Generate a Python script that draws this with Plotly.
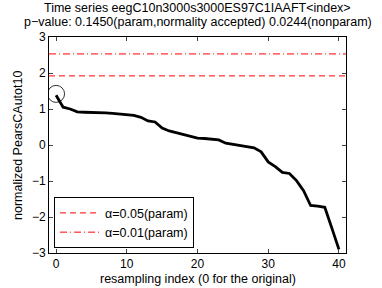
import plotly.graph_objects as go

resampling_index = list(range(41))
normalized_values = [1.38, 1.05, 1.00, 0.92, 0.91, 0.91, 0.90, 0.89, 0.88, 0.86,
                     0.84, 0.82, 0.77, 0.67, 0.64, 0.47, 0.39, 0.34, 0.30, 0.26,
                     0.19, 0.18, 0.17, 0.14, 0.05, 0.02, -0.02, -0.03, -0.08, -0.19,
                     -0.47, -0.60, -0.76, -0.79, -0.99, -1.27, -1.68, -1.70, -1.73, -2.31,
                     -2.90]
original_value = [1.42]
threshold_05 = 1.92
threshold_01 = 2.53
x_limits = [-1, 41]
y_limits = [-3, 3]
x_ticks = [0, 10, 20, 30, 40]
y_ticks = [-3, -2, -1, 0, 1, 2, 3]
title_lines = ["Time series eegC10n3000s3000ES97C1IAAFT&lt;index&gt;",
               "p−value: 0.1450(param,normality accepted) 0.0244(nonparam)"]
x_label = "resampling index (0 for the original)"
y_label = "normalized PearsCAutot10"

font = "Liberation Sans, Arial, Helvetica, sans-serif"

fig = go.Figure()
fig.add_trace(go.Scatter(x=x_limits, y=[threshold_05] * 2, mode="lines",
                         line=dict(color="#ff0000", width=1, dash="6px,4px"),
                         name="α=0.05(param)", showlegend=True))
fig.add_trace(go.Scatter(x=x_limits, y=[threshold_01] * 2, mode="lines",
                         line=dict(color="#ff0000", width=1, dash="7px,3px,1px,3px"),
                         name="α=0.01(param)", showlegend=True))
fig.add_trace(go.Scatter(x=resampling_index, y=normalized_values, mode="lines",
                         line=dict(color="black", width=2.8), showlegend=False))
fig.add_trace(go.Scatter(x=[resampling_index[0]], y=original_value, mode="markers",
                         marker=dict(symbol="circle-open", size=17,
                                     color="black", line=dict(width=0.8, color="black")),
                         showlegend=False))

annotations = [
    dict(text=title_lines[0], x=0.5, y=1.134, xref="paper", yref="paper",
         xanchor="center", yanchor="middle", showarrow=False,
         font=dict(family=font, size=12.5, color="black")),
    dict(text=title_lines[1], x=0.5, y=1.069, xref="paper", yref="paper",
         xanchor="center", yanchor="middle", showarrow=False,
         font=dict(family=font, size=12.5, color="black")),
    dict(text=x_label, x=0.5, y=-0.12, xref="paper", yref="paper",
         xanchor="center", yanchor="middle", showarrow=False,
         font=dict(family=font, size=12.5, color="black")),
    dict(text=y_label, x=-0.1044, y=0.5, xref="paper", yref="paper",
         xanchor="center", yanchor="middle", showarrow=False, textangle=-90,
         font=dict(family=font, size=12.5, color="black")),
]

fig.update_layout(
    width=382, height=288,
    margin=dict(l=49, r=36, t=37, b=35),
    paper_bgcolor="white", plot_bgcolor="white",
    font=dict(family=font, size=12, color="black"),
    annotations=annotations,
    legend=dict(x=0.017, y=0.258, xanchor="left", yanchor="top",
                bordercolor="black", borderwidth=1, bgcolor="white",
                font=dict(family=font, size=12.5), tracegroupgap=0,
                itemwidth=40),
    xaxis=dict(range=x_limits, tickvals=x_ticks, ticks="inside", ticklen=4,
               showline=True, linecolor="black", linewidth=1, mirror="ticks",
               showgrid=False, zeroline=False),
    yaxis=dict(range=y_limits, tickvals=y_ticks, ticks="inside", ticklen=4,
               showline=True, linecolor="black", linewidth=1, mirror="ticks",
               showgrid=False, zeroline=False),
)

# remove the page's default body margin so the figure sits at the window origin
fig.write_html("out.html",
               config={"displayModeBar": False},
               post_script="document.body.style.margin='0';document.body.style.overflow='hidden';")
